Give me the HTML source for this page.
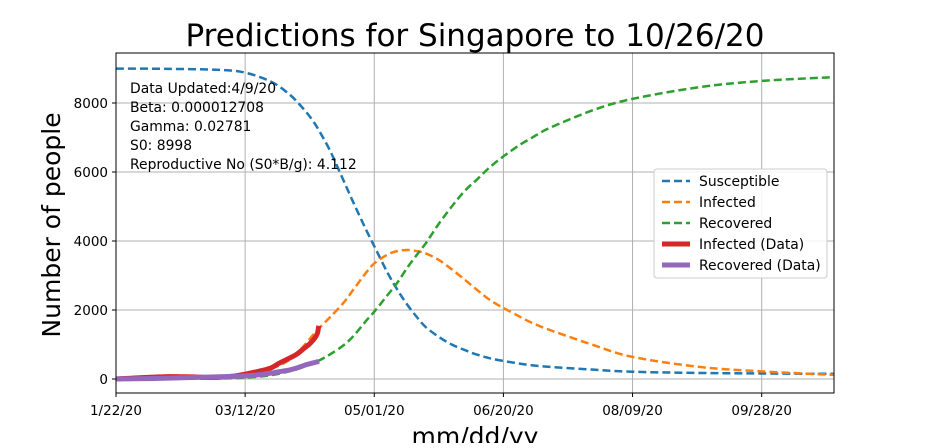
<!DOCTYPE html>
<html><head><meta charset="utf-8"><style>
body{margin:0;background:#fff;}
svg{font-family:"DejaVu Sans","Liberation Sans",sans-serif;}
</style></head><body>
<svg id="chart" width="927" height="443">
<rect width="927" height="443" fill="#fff"/>
<text x="475" y="46" font-size="31" text-anchor="middle">Predictions for Singapore  to 10/26/20</text>
<g id="grid"></g><g id="series"></g>
<rect x="116" y="53" width="718" height="340" fill="none" stroke="#000" stroke-width="1"/>
<g id="axes" font-size="13.5"></g>
<text x="475" y="445" font-size="25" text-anchor="middle">mm/dd/yy</text>
<text transform="translate(60,225) rotate(-90)" font-size="25" text-anchor="middle">Number of people</text>
<g font-size="13.9">
<text x="130" y="93">Data Updated:4/9/20</text>
<text x="130" y="112">Beta: 0.000012708</text>
<text x="130" y="131">Gamma: 0.02781</text>
<text x="130" y="150">S0: 8998</text>
<text x="130" y="169">Reproductive No (S0*B/g): 4.112</text>
</g>
<g id="legend">
<rect x="654" y="169" width="173" height="109" fill="#fff" fill-opacity="0.85" stroke="#ccc" rx="3"/>
</g>
</svg>
<script>
const xTickLabels=["1/22/20","03/12/20","05/01/20","06/20/20","08/09/20","09/28/20"];
const xTickDays=[0,50,100,150,200,250];
const yTicks=[0,2000,4000,6000,8000];
const modelDays=[0,20,40,50,60,67,72,76,79,83,88,92,97,100,105,109,113,117,120,125,130,135,140,146,155,161,168,185,200,226,250,278];
const susceptible=[8998,8990,8960,8880,8620,8260,7880,7510,7150,6600,5770,5100,4300,3850,3100,2580,2130,1750,1500,1220,1000,840,700,580,460,400,350,270,210,175,160,150];
const infected=[2,15,60,120,300,550,900,1250,1500,1800,2200,2600,3100,3350,3600,3710,3740,3700,3640,3450,3180,2880,2570,2230,1860,1630,1420,980,640,350,220,120];
const recovered=[0,3,15,40,110,220,330,450,550,720,970,1250,1700,1950,2420,2800,3250,3650,3940,4500,5000,5450,5800,6220,6720,6990,7280,7800,8120,8460,8640,8750];
const dataDays=[0,5,10,15,20,25,30,35,40,45,50,55,60,63,67,70,73,75,77,78,78.5];
const infectedData=[2,20,40,55,70,65,60,45,50,80,140,220,320,450,600,720,900,1020,1190,1330,1540];
const recoveredData=[0,5,10,15,25,35,45,55,65,75,90,120,170,210,260,320,400,440,480,500,520];
const X=d=>116+d*(718/278), Y=v=>379-v*0.0345;
const NS="http://www.w3.org/2000/svg";
function mk(t,a,p){const e=document.createElementNS(NS,t);for(const k in a)e.setAttribute(k,a[k]);p.appendChild(e);return e;}
const grid=document.getElementById('grid'),axes=document.getElementById('axes'),ser=document.getElementById('series');
xTickDays.forEach((d,i)=>{
 const l=mk('line',{x1:X(d),x2:X(d),y1:53,y2:393,stroke:'#b0b0b0','stroke-width':1},grid);
 
 
 mk('line',{x1:X(d),x2:X(d),y1:393,y2:397,stroke:'#000'},axes);
 const t=mk('text',{x:X(d),y:415,'text-anchor':'middle'},axes);t.textContent=xTickLabels[i];
 
 
});
yTicks.forEach(v=>{
 const l=mk('line',{x1:116,x2:834,y1:Y(v),y2:Y(v),stroke:'#b0b0b0','stroke-width':1},grid);
 
 
 mk('line',{x1:112,x2:116,y1:Y(v),y2:Y(v),stroke:'#000'},axes);
 const t=mk('text',{x:108,y:Y(v)+5,'text-anchor':'end'},axes);t.textContent=v;
 
 
});
function smooth(pts){
 let d='M'+pts[0][0]+','+pts[0][1];
 for(let i=0;i<pts.length-1;i++){
  const p0=pts[i-1]||pts[i],p1=pts[i],p2=pts[i+1],p3=pts[i+2]||p2;
  const c1=[p1[0]+(p2[0]-p0[0])/6,p1[1]+(p2[1]-p0[1])/6];
  const c2=[p2[0]-(p3[0]-p1[0])/6,p2[1]-(p3[1]-p1[1])/6];
  d+=' C'+c1+' '+c2+' '+p2;
 }
 return d;
}
function line(days,vals,color,w,dash,name){
 const pts=days.map((d,i)=>[X(d),Y(vals[i])]);
 const p=mk('path',{d:smooth(pts),fill:'none',stroke:color,'stroke-width':w,'stroke-dasharray':dash,'stroke-linejoin':'round'},ser);
 
 
}
line(modelDays,susceptible,'#1f77b4',2.5,'8,4','susceptible-line');
line(modelDays,infected,'#ff7f0e',2.5,'8,4','infected-line');
line(modelDays,recovered,'#2ca02c',2.5,'8,4','recovered-line');
line(dataDays,infectedData,'#d62728',5,'none','infected-data-line');
line(dataDays,recoveredData,'#9467bd',5,'none','recovered-data-line');
const lg=document.getElementById('legend');
[['Susceptible','#1f77b4','8,4',2.5],['Infected','#ff7f0e','8,4',2.5],['Recovered','#2ca02c','8,4',2.5],['Infected (Data)','#d62728','none',5],['Recovered (Data)','#9467bd','none',5]].forEach((e,i)=>{
 const y=181+i*21;
 mk('line',{x1:662,x2:690,y1:y,y2:y,stroke:e[1],'stroke-width':e[3],'stroke-dasharray':e[2]},lg);
 const t=mk('text',{x:699,y:y+5,'font-size':13.9},lg);t.textContent=e[0];
 
 
});
</script>
</body></html>
